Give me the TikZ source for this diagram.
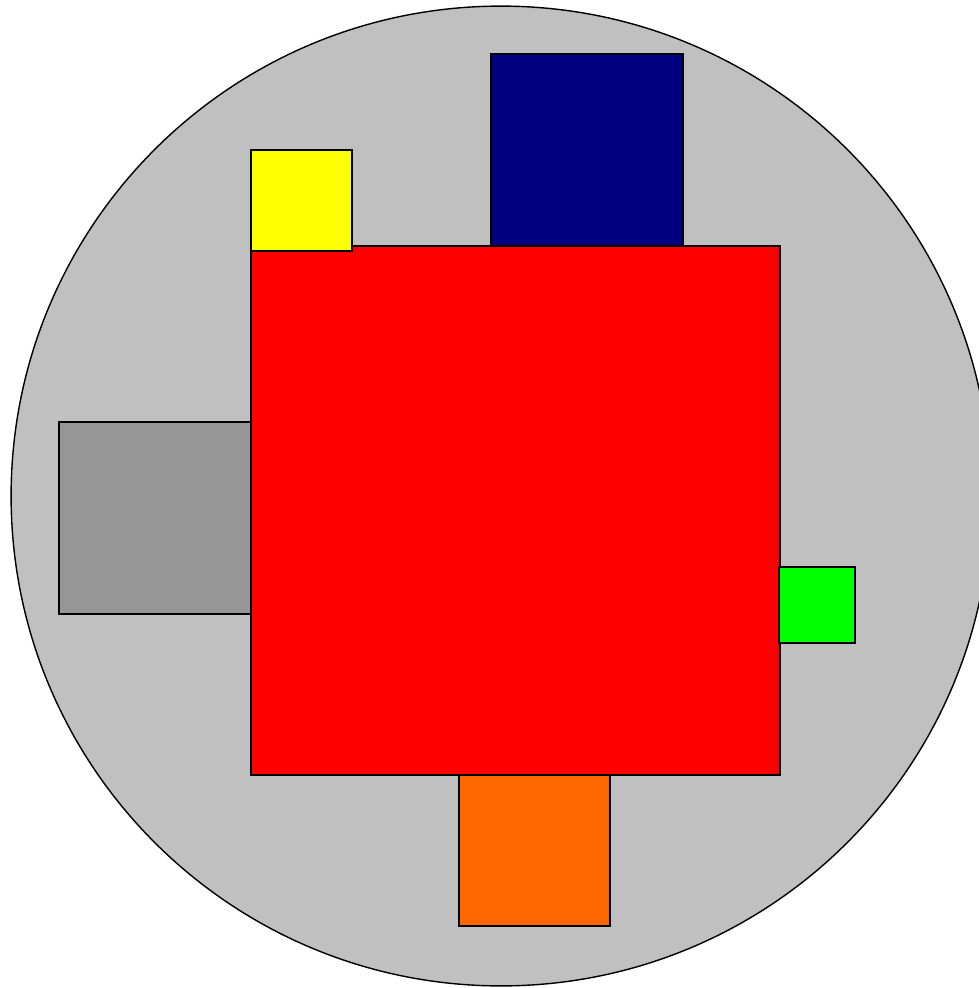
\documentclass[tikz,border=0pt]{standalone}
\usetikzlibrary{positioning}
\definecolor{platter}{HTML}{C0C0C0}
\definecolor{sidegray}{HTML}{969696}
\definecolor{topnavy}{HTML}{000080}
\definecolor{footorange}{HTML}{FF6600}
\definecolor{tabgreen}{HTML}{00FF00}
\definecolor{tabyellow}{HTML}{FFFF00}
\definecolor{corered}{HTML}{FF0000}
\begin{document}
\begin{tikzpicture}[
  x=0.02cm,
  y=-0.02cm,
  box/.style={draw=black, line width=0.8pt, inner sep=0pt, outer sep=0pt}
]
  \useasboundingbox (0,0) rectangle (978,988);

  % ---- the round platter ----
  \node[box, circle, fill=platter, minimum size=19.6cm] (platter) at (501,496) {};

  % ---- the central block ----
  \node[box, fill=corered, minimum size=10.58cm] (core) at (515.5,510.5) {};

  % ---- blocks under the core ----
  \node[box, fill=topnavy, minimum size=3.84cm, anchor=south west] (topblock)
    at ([xshift=4.8cm]core.north west) {};
  \node[box, fill=sidegray, minimum size=3.84cm, anchor=north east] (sideblock)
    at ([yshift=-3.52cm]core.north west) {};

  % ---- redraw the core over them ----
  \node[box, fill=corered, minimum size=10.58cm] at (core) {};

  % ---- small tabs on top ----
  \node[box, fill=footorange, minimum size=3.02cm, anchor=north west] (footblock)
    at ([xshift=4.16cm]core.south west) {};
  \node[box, fill=tabyellow, minimum size=2.02cm, anchor=south west] (cornertab)
    at ([yshift=-0.1cm]core.north west) {};
  \node[box, fill=tabgreen, minimum size=1.52cm, anchor=north west] (edgetab)
    at ([xshift=-0.02cm, yshift=-6.42cm]core.north east) {};
\end{tikzpicture}
\end{document}
